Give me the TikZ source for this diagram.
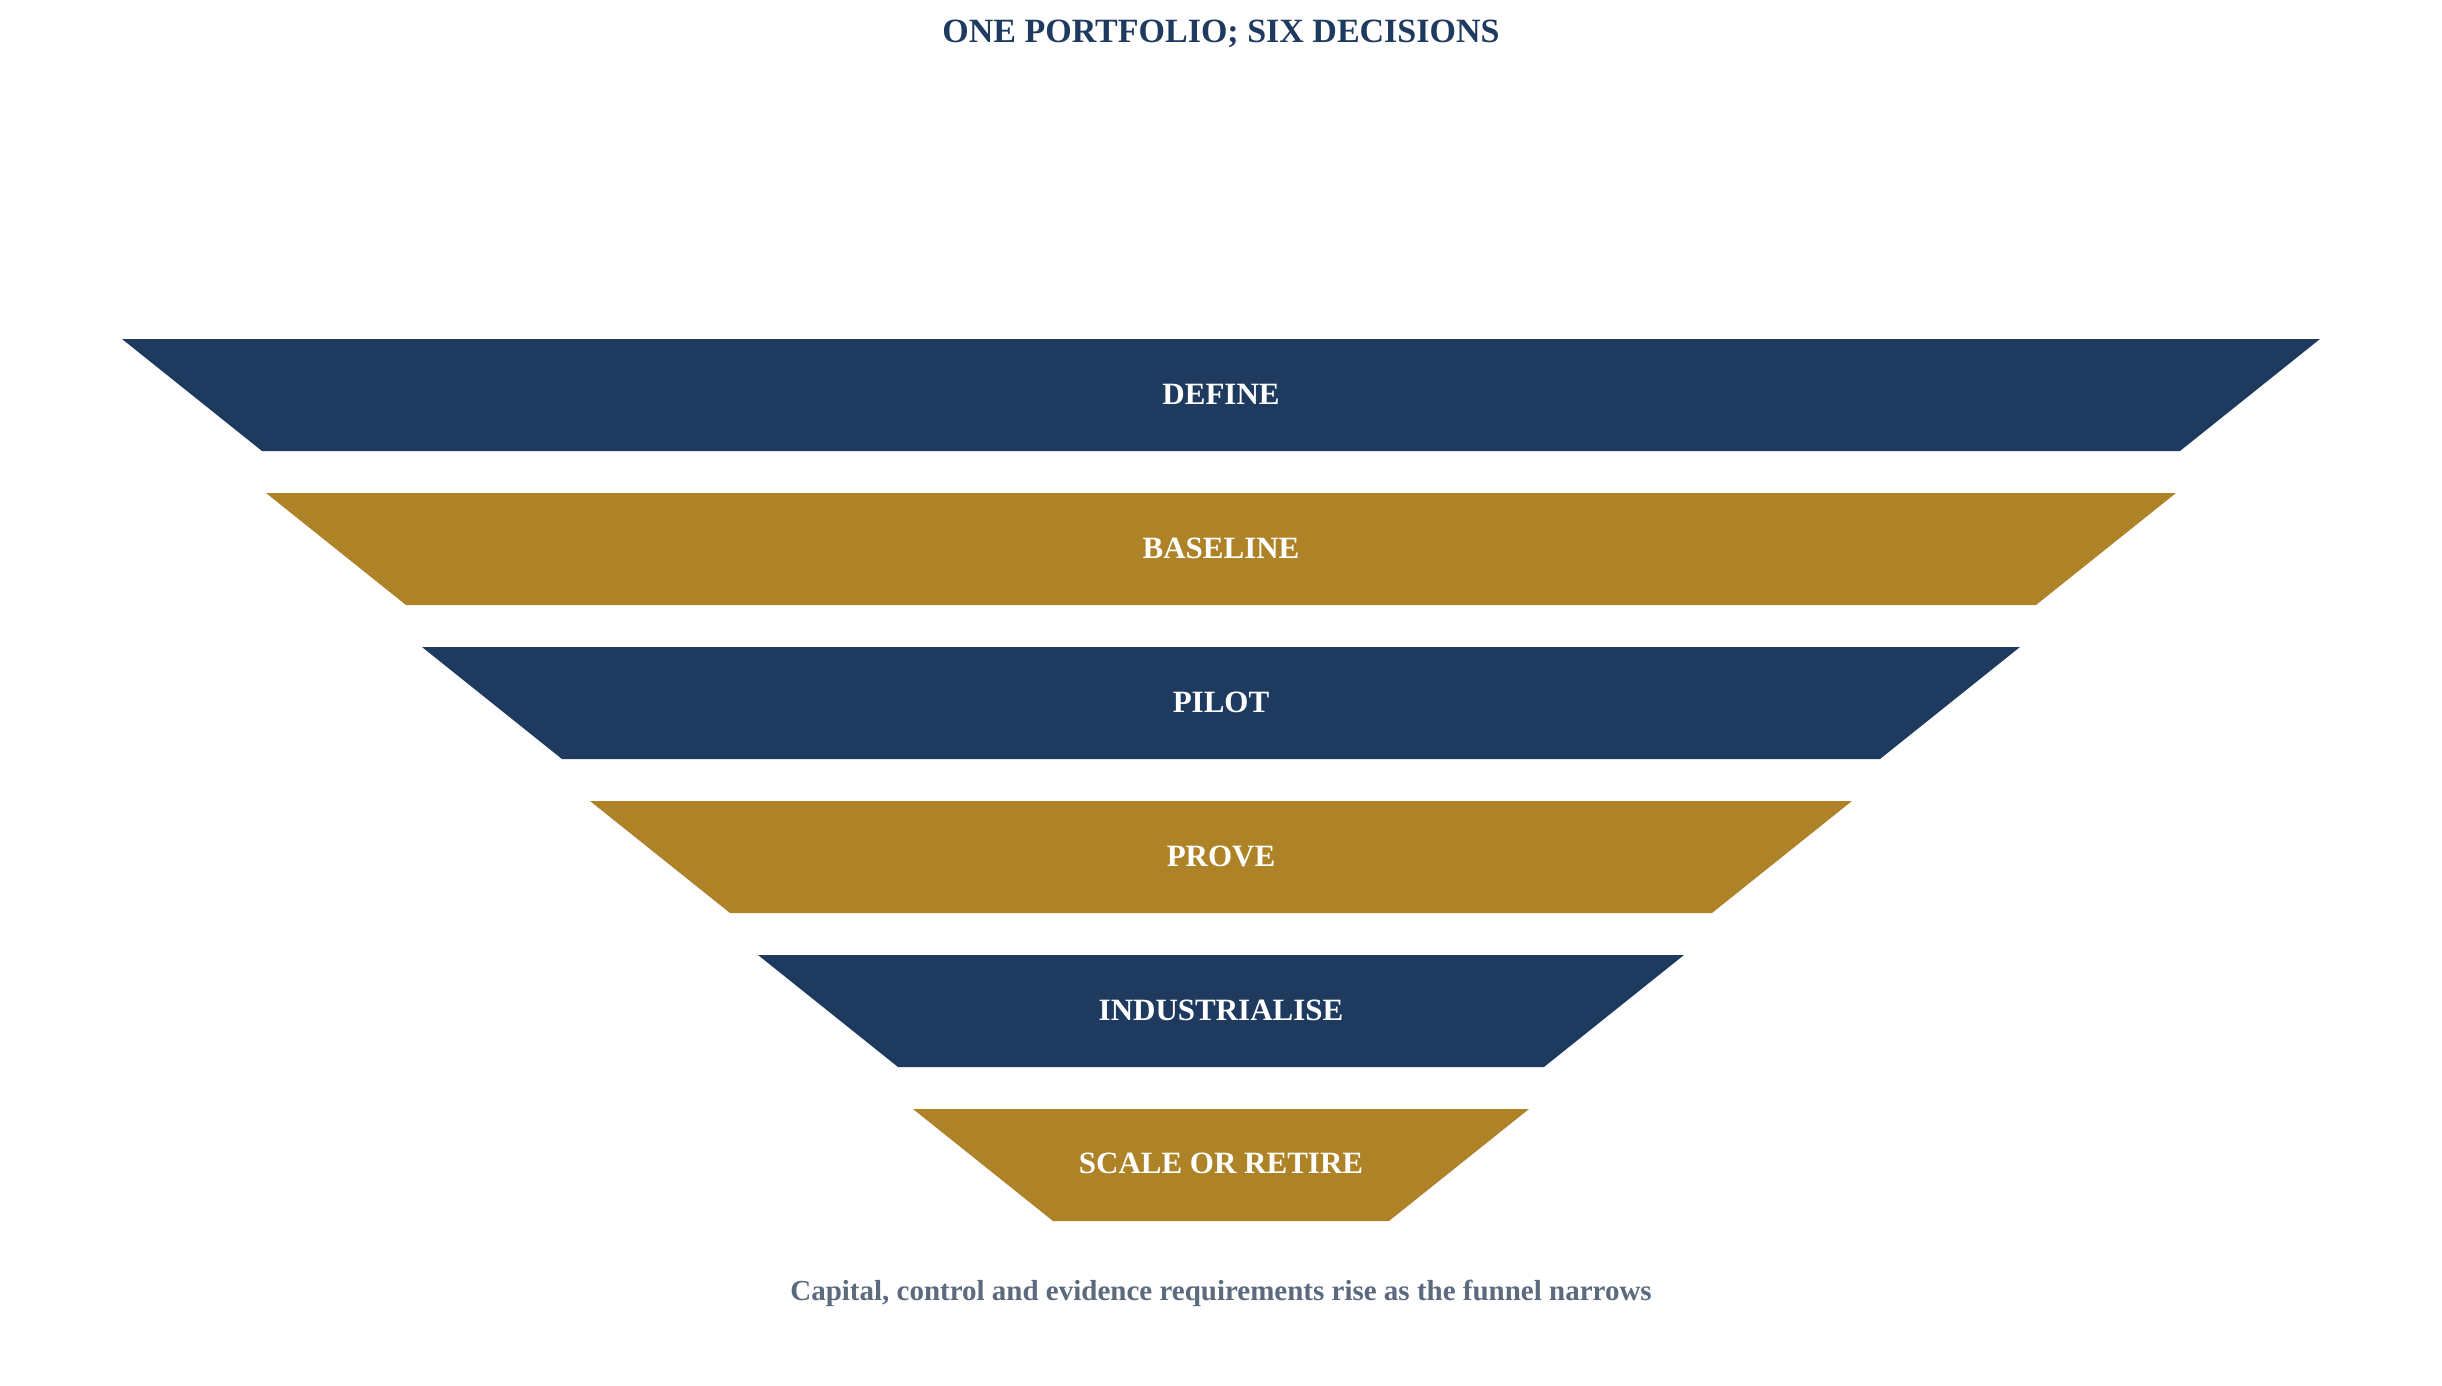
\documentclass[tikz,border=0pt]{standalone}
\usepackage{fontspec}
\setmainfont{Liberation Serif}
\definecolor{navy}{HTML}{1F3A5F}
\definecolor{gold}{HTML}{AE8226}
\definecolor{slate}{HTML}{5B6A7E}

\begin{document}
\begin{tikzpicture}[x=1pt, y=-1pt,
  stage/.style={text=white, font=\fontsize{31}{36}\selectfont\bfseries},
  heading/.style={text=navy, font=\fontsize{34}{40}\selectfont\bfseries},
  note/.style={text=slate, font=\fontsize{29}{34}\selectfont\bfseries}]

  \useasboundingbox (0,0) rectangle (2442,1386);

  % Title
  \node[heading] (title) at (1221,33.5) {ONE PORTFOLIO; SIX DECISIONS};

  % Funnel stages
  \fill[navy] (122,339) -- (2320,339) -- (2180,451) -- (262,451) -- cycle;
  \node[stage] (define) at (1221,394) {DEFINE};

  \fill[gold] (266,493) -- (2176,493) -- (2036,605) -- (406,605) -- cycle;
  \node[stage] (baseline) at (1221,548) {BASELINE};

  \fill[navy] (422,647) -- (2020,647) -- (1880,759) -- (562,759) -- cycle;
  \node[stage] (pilot) at (1221,702) {PILOT};

  \fill[gold] (590,801) -- (1852,801) -- (1712,913) -- (730,913) -- cycle;
  \node[stage] (prove) at (1221,856) {PROVE};

  \fill[navy] (758,955) -- (1684,955) -- (1544,1067) -- (898,1067) -- cycle;
  \node[stage] (industrialise) at (1221,1010) {INDUSTRIALISE};

  \fill[gold] (913,1109) -- (1529,1109) -- (1389,1221) -- (1053,1221) -- cycle;
  \node[stage] (scale) at (1221,1163) {SCALE OR RETIRE};

  % Caption
  \node[note, anchor=base] (caption) at (1221,1300) {Capital, control and evidence requirements rise as the funnel narrows};
\end{tikzpicture}
\end{document}
